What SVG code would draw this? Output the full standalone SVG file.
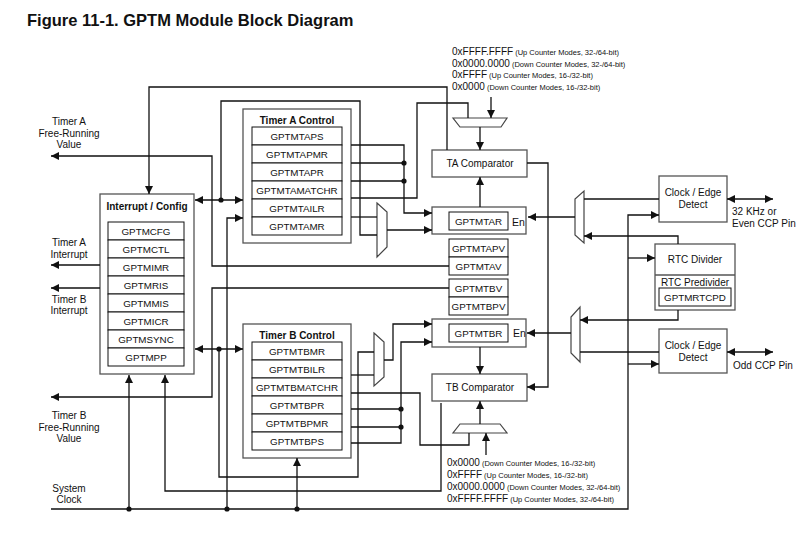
<svg xmlns="http://www.w3.org/2000/svg" width="812" height="534" viewBox="0 0 812 534">
<defs>
<marker id="ah" viewBox="0 0 10 10" refX="10" refY="5" markerWidth="9" markerHeight="8" markerUnits="userSpaceOnUse" orient="auto-start-reverse"><path d="M0,0L10,5L0,10z" fill="#111"/></marker>
</defs>
<style>
text{font-family:"Liberation Sans",Arial,sans-serif;fill:#111}
.t{font-size:10px;text-anchor:middle}
.l{font-size:10.5px}
.ls{font-size:10px}
.b{font-weight:bold}
.r{font-size:9.8px;text-anchor:middle}
.box{fill:#fff;stroke:#555;stroke-width:1.3}
.reg{fill:#fff;stroke:#111;stroke-width:1}
.mux{fill:#fff;stroke:#444;stroke-width:1.2}
.w{fill:none;stroke:#111;stroke-width:1.3}
.a{marker-end:url(#ah)}
.d{marker-start:url(#ah);marker-end:url(#ah)}
.big{font-size:10px}
.sm{font-size:7.5px}
.dot{fill:#111}
</style>
<rect width="812" height="534" fill="#fff"/>
<text x="27" y="26" font-size="16.5" font-weight="bold">Figure 11-1. GPTM Module Block Diagram</text>

<g id="labels-left">
<text class="t" x="69" y="124.5">Timer A</text>
<text class="t" x="69" y="136.5">Free-Running</text>
<text class="t" x="69" y="147.5">Value</text>
<text class="t" x="69" y="246">Timer A</text>
<text class="t" x="69" y="258">Interrupt</text>
<text class="t" x="69" y="302.5">Timer B</text>
<text class="t" x="69" y="314">Interrupt</text>
<text class="t" x="69" y="418.5">Timer B</text>
<text class="t" x="69" y="430.5">Free-Running</text>
<text class="t" x="69" y="441.5">Value</text>
<text class="t" x="69" y="491.5">System</text>
<text class="t" x="69" y="503">Clock</text>
</g>

<g id="constants-top">
<text x="452" y="54.5"><tspan class="big">0xFFFF.FFFF</tspan><tspan class="sm"> (Up Counter Modes, 32-/64-bit)</tspan></text>
<text x="452" y="66.5"><tspan class="big">0x0000.0000</tspan><tspan class="sm"> (Down Counter Modes, 32-/64-bit)</tspan></text>
<text x="452" y="77.5"><tspan class="big">0xFFFF</tspan><tspan class="sm"> (Up Counter Modes, 16-/32-bit)</tspan></text>
<text x="452" y="89.5"><tspan class="big">0x0000</tspan><tspan class="sm"> (Down Counter Modes, 16-/32-bit)</tspan></text>
</g>
<g id="constants-bottom">
<text x="447" y="465.5"><tspan class="big">0x0000</tspan><tspan class="sm"> (Down Counter Modes, 16-/32-bit)</tspan></text>
<text x="447" y="477.5"><tspan class="big">0xFFFF</tspan><tspan class="sm"> (Up Counter Modes, 16-/32-bit)</tspan></text>
<text x="447" y="489.5"><tspan class="big">0x0000.0000</tspan><tspan class="sm"> (Down Counter Modes, 32-/64-bit)</tspan></text>
<text x="447" y="501.5"><tspan class="big">0xFFFF.FFFF</tspan><tspan class="sm"> (Up Counter Modes, 32-/64-bit)</tspan></text>
</g>

<g id="interrupt-config">
<rect class="box" x="100" y="194" width="94" height="180"/>
<text class="t b" x="147" y="209.5">Interrupt / Config</text>
<rect class="reg" x="108" y="222" width="76" height="18"/><text class="r" x="146" y="234.5">GPTMCFG</text>
<rect class="reg" x="108" y="240" width="76" height="18"/><text class="r" x="146" y="252.5">GPTMCTL</text>
<rect class="reg" x="108" y="258" width="76" height="18"/><text class="r" x="146" y="270.5">GPTMIMR</text>
<rect class="reg" x="108" y="276" width="76" height="18"/><text class="r" x="146" y="288.5">GPTMRIS</text>
<rect class="reg" x="108" y="294" width="76" height="18"/><text class="r" x="146" y="306.5">GPTMMIS</text>
<rect class="reg" x="108" y="312" width="76" height="18"/><text class="r" x="146" y="324.5">GPTMICR</text>
<rect class="reg" x="108" y="330" width="76" height="18"/><text class="r" x="146" y="342.5">GPTMSYNC</text>
<rect class="reg" x="108" y="348" width="76" height="18"/><text class="r" x="146" y="360.5">GPTMPP</text>
</g>

<g id="timer-a-control">
<rect class="box" x="243" y="109" width="108" height="134"/>
<text class="t b" x="297" y="123.5">Timer A Control</text>
<rect class="reg" x="252" y="127" width="90" height="18"/><text class="r" x="297" y="139.5">GPTMTAPS</text>
<rect class="reg" x="252" y="145" width="90" height="18"/><text class="r" x="297" y="157.5">GPTMTAPMR</text>
<rect class="reg" x="252" y="163" width="90" height="18"/><text class="r" x="297" y="175.5">GPTMTAPR</text>
<rect class="reg" x="252" y="181" width="90" height="18"/><text class="r" x="297" y="193.5" font-size="9.2">GPTMTAMATCHR</text>
<rect class="reg" x="252" y="199" width="90" height="18"/><text class="r" x="297" y="211.5">GPTMTAILR</text>
<rect class="reg" x="252" y="217" width="90" height="18"/><text class="r" x="297" y="229.5">GPTMTAMR</text>
</g>

<g id="timer-b-control">
<rect class="box" x="243" y="324" width="108" height="134"/>
<text class="t b" x="297" y="338.5">Timer B Control</text>
<rect class="reg" x="252" y="342" width="90" height="18"/><text class="r" x="297" y="354.5">GPTMTBMR</text>
<rect class="reg" x="252" y="360" width="90" height="18"/><text class="r" x="297" y="372.5">GPTMTBILR</text>
<rect class="reg" x="252" y="378" width="90" height="18"/><text class="r" x="297" y="390.5" font-size="9.2">GPTMTBMATCHR</text>
<rect class="reg" x="252" y="396" width="90" height="18"/><text class="r" x="297" y="408.5">GPTMTBPR</text>
<rect class="reg" x="252" y="414" width="90" height="18"/><text class="r" x="297" y="426.5">GPTMTBPMR</text>
<rect class="reg" x="252" y="432" width="90" height="18"/><text class="r" x="297" y="444.5">GPTMTBPS</text>
</g>

<g id="ta-comparator">
<rect class="box" x="432" y="150" width="95" height="27"/>
<text class="t" x="480" y="166.5">TA Comparator</text>
</g>
<g id="ta-mux"><polygon class="mux" points="453,118 507,118 501,127 460,127"/></g>
<g id="ta-sel-mux"><polygon class="mux" points="377,203 387,212 387,247 377,257"/></g>
<g id="gptmtar">
<rect class="box" x="432" y="207" width="94" height="27"/>
<rect class="reg" x="449" y="212" width="59" height="18"/>
<text class="r" x="478.5" y="224.5">GPTMTAR</text>
<text class="l" x="512" y="225.8">En</text>
</g>
<g id="gptmtapv"><rect class="reg" x="449" y="239" width="59" height="18"/><text class="r" x="478.5" y="251.5">GPTMTAPV</text></g>
<g id="gptmtav"><rect class="reg" x="449" y="257" width="59" height="18"/><text class="r" x="478.5" y="269.5">GPTMTAV</text></g>
<g id="gptmtbv"><rect class="reg" x="449" y="279" width="59" height="18"/><text class="r" x="478.5" y="291.5">GPTMTBV</text></g>
<g id="gptmtbpv"><rect class="reg" x="449" y="297" width="59" height="18"/><text class="r" x="478.5" y="309.5">GPTMTBPV</text></g>
<g id="gptmtbr">
<rect class="box" x="432" y="319" width="94" height="28"/>
<rect class="reg" x="449" y="324" width="59" height="18"/>
<text class="r" x="478.5" y="336.5">GPTMTBR</text>
<text class="l" x="513" y="336.8">En</text>
</g>
<g id="tb-sel-mux"><polygon class="mux" points="374,333 384,342 384,377 374,386"/></g>
<g id="tb-comparator">
<rect class="box" x="432" y="374" width="95" height="27"/>
<text class="t" x="480" y="391">TB Comparator</text>
</g>
<g id="tb-mux"><polygon class="mux" points="460,424 500,424 507,433 453,433"/></g>

<g id="ta-en-mux"><polygon class="mux" points="584,191 584,243 575,235 575,199"/></g>
<g id="tb-en-mux"><polygon class="mux" points="580,307 580,362 571,353 571,317"/></g>
<g id="clock-edge-a">
<rect class="box" x="659" y="176" width="68" height="46"/>
<text class="t" x="693" y="196.2">Clock / Edge</text>
<text class="t" x="693" y="207.8">Detect</text>
</g>
<g id="rtc-divider">
<rect class="box" x="655" y="244" width="80" height="66"/>
<line x1="655" y1="275" x2="735" y2="275" stroke="#555" stroke-width="1.3"/>
<text class="t" x="695" y="262.5">RTC Divider</text>
<text class="t" x="695" y="285.5">RTC Predivider</text>
<rect class="reg" x="659" y="288" width="72" height="18"/>
<text class="r" x="695" y="300.5">GPTMRTCPD</text>
</g>
<g id="clock-edge-b">
<rect class="box" x="659" y="329" width="68" height="44"/>
<text class="t" x="693" y="349.2">Clock / Edge</text>
<text class="t" x="693" y="360.8">Detect</text>
</g>
<g id="labels-right">
<text class="ls" x="732" y="215.2">32 KHz or</text>
<text class="ls" x="732" y="226.8">Even CCP Pin</text>
<text class="ls" x="733" y="368.5">Odd CCP Pin</text>
</g>

<g id="connectors">
<path class="w a" d="M447,150V87H149V194"/>
<path class="w a" d="M491,97V118"/>
<path class="w a" d="M480,127V150"/>
<path class="w a" d="M480,207V177"/>
<path class="w a" d="M527,163H548V387H527"/>
<path class="w" d="M351,198H417V103H468V118"/>
<path class="w a" d="M351,145H404V213H432"/>
<path class="w" d="M351,163H404M351,181H404"/>
<path class="w" d="M351,217H377"/>
<path class="w d" d="M195,200H243"/>
<path class="w" d="M221,200V101H360V235H377"/>
<path class="w a" d="M227,509V218H243"/>
<path class="w a" d="M387,230H432"/>
<path class="w a" d="M449,266H212V156H51"/>
<path class="w a" d="M449,288H212V397H51"/>
<path class="w a" d="M100,265H51"/>
<path class="w a" d="M100,288H51"/>
<path class="w d" d="M195,349H243"/>
<path class="w" d="M219,349V477H358V352H374"/>
<path class="w" d="M351,375H374"/>
<path class="w a" d="M384,360H393V324H432"/>
<path class="w a" d="M351,443H401V342H432"/>
<path class="w" d="M351,409H401M351,427H401"/>
<path class="w" d="M351,393H420V445H469V433"/>
<path class="w a" d="M486,455V433"/>
<path class="w a" d="M480,424V401"/>
<path class="w a" d="M480,347V374"/>
<path class="w a" d="M441,403V491H165V375"/>
<path class="w a" d="M51,509H628V215H659"/>
<path class="w a" d="M129,509V375"/>
<path class="w a" d="M297,509V458"/>
<path class="w a" d="M628,258H655"/>
<path class="w a" d="M628,364H659"/>
<path class="w" d="M659,199H584"/>
<path class="w a" d="M678,244V236H584"/>
<path class="w a" d="M575,217H528"/>
<path class="w d" d="M727,199H773"/>
<path class="w a" d="M678,310V320H580"/>
<path class="w" d="M659,352H580"/>
<path class="w a" d="M571,333H527"/>
<path class="w d" d="M727,352H773"/>
<circle class="dot" cx="404" cy="163" r="2.6"/>
<circle class="dot" cx="404" cy="181" r="2.6"/>
<circle class="dot" cx="401" cy="409" r="2.6"/>
<circle class="dot" cx="401" cy="427" r="2.6"/>
<circle class="dot" cx="221" cy="200" r="2.6"/>
<circle class="dot" cx="219" cy="349" r="2.6"/>
<circle class="dot" cx="129" cy="509" r="2.6"/>
<circle class="dot" cx="227" cy="509" r="2.6"/>
<circle class="dot" cx="297" cy="509" r="2.6"/>
</g>
</svg>
